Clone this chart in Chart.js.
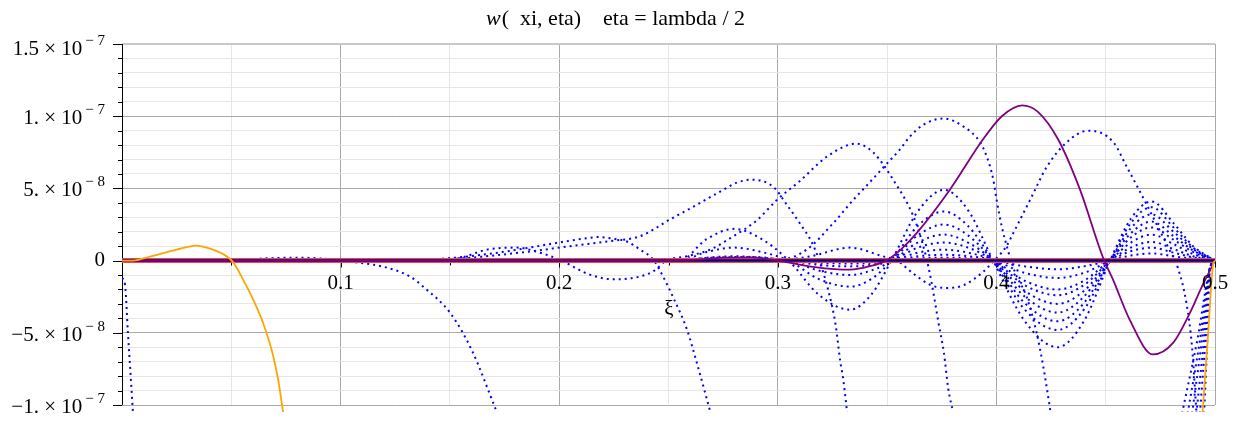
<!DOCTYPE html>
<html>
<head>
<meta charset="utf-8">
<script src="https://cdn.jsdelivr.net/npm/chart.js@4.4.0/dist/chart.umd.min.js"></script>
<style>
  html, body { margin: 0; padding: 0; background: #fff; }
  canvas { display: block; }
</style>
</head>
<body>
<canvas id="chart" width="1240" height="423"></canvas>
<script>
// all y values are w * 1e8 (axis labels carry the powers of ten)

// axis ticks / grid
const xGridValues = [0, 0.05, 0.1, 0.15, 0.2, 0.25, 0.3, 0.35, 0.4, 0.45, 0.5];
const xTickLabels = ["0.1", "0.2", "0.3", "0.4", "0.5"];
const xTickValues = [0.1, 0.2, 0.3, 0.4, 0.5];
const yGridValues = [-10, -9, -8, -7, -6, -5, -4, -3, -2, -1, 0, 1, 2, 3, 4, 5, 6, 7, 8, 9, 10, 11, 12, 13, 14, 15];
const yTickValues = [15, 10, 5, 0, -5, -10];
const yTickMant = ["1.5", "1.", "5.", "0", "\u22125.", "\u22121."];
const yTickExp = ["\u2212 7", "\u2212 7", "\u2212 8", "", "\u2212 8", "\u2212 7"];

// solid curves
const orangeX = [0, 0.005, 0.0128, 0.025, 0.034, 0.037, 0.0416, 0.048, 0.051, 0.0554, 0.06, 0.0645, 0.069, 0.0715, 0.0737];
const orangeY = [0, 0, 0.28, 0.76, 1.04, 0.97, 0.76, 0.28, -0.14, -1.32, -2.7, -4.3, -6.5, -8.3, -10.5];
const orangeEndX = [0.4943, 0.4968, 0.4991, 0.5];
const orangeEndY = [-10.5, -5.2, -0.3, 0];

const purpleX = [0, 0.24, 0.26, 0.275, 0.288, 0.3, 0.317, 0.333, 0.343, 0.3495, 0.3565, 0.3637, 0.3788, 0.3939, 0.4025, 0.4118, 0.419, 0.4282, 0.4382, 0.4488, 0.4533, 0.461, 0.4716, 0.4808, 0.4886, 0.494, 0.5];
const purpleY = [0, 0, 0.05, 0.2, 0.22, 0, -0.45, -0.63, -0.35, 0, 0.8, 1.94, 4.93, 8.4, 10.0, 10.75, 10.3, 8.4, 4.93, 0.2, -1.3, -4.1, -6.5, -5.7, -3.6, -1.8, 0];

const zeroX = [0, 0.5];
const zeroY = [0, 0];

// dotted curves that dive below the frame
const c1X = [0, 0.0014, 0.0027, 0.0038, 0.005];
const c1Y = [-1.2, -1.7, -5.0, -7.6, -10.5];
const c2X = [0.03, 0.05, 0.065, 0.08, 0.095, 0.104, 0.1194, 0.1317, 0.1377, 0.15, 0.16, 0.1715];
const c2Y = [0, 0.02, 0.15, 0.2, 0.1, -0.07, -0.42, -1.1, -1.8, -3.6, -6.2, -10.5];
const c3X = [0.13, 0.1532, 0.167, 0.1807, 0.197, 0.2127, 0.218, 0.2255, 0.231, 0.237, 0.243, 0.2475, 0.252, 0.2585, 0.263, 0.269];
const c3Y = [0, 0.21, 0.45, 0.75, 1.18, 1.55, 1.63, 1.5, 1.32, 0.76, 0.07, -1.1, -2.5, -4.8, -7.1, -10.4];
const c4X = [0.12, 0.15, 0.17, 0.19, 0.21, 0.2235, 0.237, 0.2507, 0.261, 0.2727, 0.2813, 0.288, 0.298, 0.304, 0.31, 0.3156, 0.319, 0.323, 0.3265, 0.3285, 0.33, 0.3317];
const c4Y = [0, 0.1, 0.35, 0.7, 1.1, 1.35, 1.69, 2.85, 3.7, 4.7, 5.4, 5.6, 5.1, 3.9, 2.6, 1.25, 0, -2.0, -4.5, -6.9, -8.3, -10.5];
const c5X = [0.14, 0.155, 0.167, 0.1807, 0.19, 0.2, 0.214, 0.225, 0.237, 0.2435, 0.249, 0.2583, 0.269, 0.2797, 0.2905, 0.2996, 0.31, 0.3225, 0.336, 0.3437, 0.3528, 0.362, 0.366, 0.369, 0.3715, 0.3735, 0.376, 0.378, 0.3802];
const c5Y = [0, 0.2, 0.76, 0.9, 0.6, 0.07, -0.97, -1.3, -1.1, -0.7, 0, 0.3, 0.76, 1.69, 2.8, 4.2, 5.5, 7.2, 8.1, 7.48, 5.6, 3.08, 1.3, -0.5, -2.5, -4.3, -6.4, -8.9, -10.5];
const c6X = [0.25, 0.27, 0.29, 0.302, 0.3132, 0.3254, 0.3345, 0.3407, 0.3498, 0.3559, 0.3605, 0.3665, 0.3757, 0.3848, 0.3925, 0.3956, 0.3986, 0.4001, 0.4024, 0.4055, 0.4085, 0.4138, 0.4184, 0.4214, 0.4248];
const c6Y = [0, 0.2, 0.25, 0.1, 0.76, 2.6, 4.2, 5.2, 6.7, 7.7, 8.6, 9.4, 9.84, 9.3, 8.2, 7.2, 5.6, 4.2, 2.4, 0.6, -0.8, -2.5, -5.0, -7.3, -10.5];
const c7X = [0.3, 0.315, 0.333, 0.348, 0.3545, 0.362, 0.37, 0.3775, 0.385, 0.393, 0.399, 0.4046, 0.4077, 0.4154, 0.4231, 0.4322, 0.442, 0.4535, 0.4596, 0.4642, 0.469, 0.474, 0.479, 0.483, 0.487, 0.4895, 0.4915];
const c7Y = [0, 0.3, 0.9, 0.3, 0, -0.9, -1.7, -1.9, -1.7, -0.9, 0, 1.0, 1.9, 4.2, 6.5, 8.2, 9.0, 8.2, 6.5, 5.2, 3.8, 2.3, 0.8, -0.5, -3.0, -6.0, -10.5];

// their returns from below near xi = 0.5
const r1X = [0.4849, 0.4919, 0.4977, 0.5];
const r2X = [0.4875, 0.4931, 0.4977, 0.5];
const r3X = [0.4895, 0.494, 0.4977, 0.5];
const r4X = [0.4915, 0.4949, 0.4977, 0.5];
const r5X = [0.4931, 0.4956, 0.4977, 0.5];
const r6X = [0.495, 0.4965, 0.4977, 0.5];
const returnY = [-10.6, -5.5, -0.5, 0];

// nested family of dotted curves that end at zero
const nestX = [0.24, 0.255, 0.2675, 0.28, 0.2925, 0.305, 0.319, 0.333, 0.3425, 0.352, 0.364, 0.376, 0.387, 0.3985, 0.413, 0.428, 0.44, 0.452, 0.4615, 0.471, 0.481, 0.49, 0.5];
const n1Y = [0, 0, 1.5, 2.2, 1.5, 0, -2.4, -3.4, -2.4, 0, 3.4, 4.9, 3.5, 0, -4.2, -6.0, -4.2, 0, 2.9, 4.1, 2.6, 1.0, 0];
const n2Y = [0, 0, 0.6, 0.9, 0.6, 0, -1.3, -1.8, -1.3, 0, 2.4, 3.4, 2.4, 0, -3.4, -4.8, -3.4, 0, 2.6, 3.7, 2.3, 0.9, 0];
const n3Y = [0, 0, 0.2, 0.3, 0.2, 0, -0.7, -1.0, -0.7, 0, 1.75, 2.5, 1.75, 0, -2.95, -4.2, -2.95, 0, 2.25, 3.2, 2.0, 0.8, 0];
const n4Y = [0, 0, 0.05, 0.1, 0.05, 0, -0.3, -0.4, -0.3, 0, 1.25, 1.8, 1.25, 0, -2.5, -3.6, -2.5, 0, 1.9, 2.7, 1.7, 0.7, 0];
const n5Y = [0, 0, 0, 0, 0, 0, -0.15, -0.2, -0.15, 0, 0.9, 1.25, 0.9, 0, -2.1, -3.0, -2.1, 0, 1.6, 2.3, 1.45, 0.6, 0];
const n6Y = [0, 0, 0, 0, 0, 0, -0.05, -0.1, -0.05, 0, 0.55, 0.76, 0.55, 0, -1.7, -2.4, -1.7, 0, 1.25, 1.8, 1.15, 0.45, 0];
const n7Y = [0, 0, 0, 0, 0, 0, 0, 0, 0, 0, 0.3, 0.4, 0.3, 0, -1.4, -2.0, -1.4, 0, 0.9, 1.3, 0.8, 0.3, 0];
const n8Y = [0, 0, 0, 0, 0, 0, 0, 0, 0, 0, 0.15, 0.2, 0.15, 0, -0.85, -1.2, -0.85, 0, 0.65, 0.9, 0.55, 0.22, 0];
const n9Y = [0, 0, 0, 0, 0, 0, 0, 0, 0, 0, 0.05, 0.1, 0.05, 0, -0.4, -0.6, -0.4, 0, 0.35, 0.5, 0.3, 0.12, 0];

const BLUE = "#0000ff";
const SERIF = '"Liberation Serif", "Times New Roman", serif';
const CLIP = { left: 0, top: 0, right: 0, bottom: 7 };

function pts(xs, ys) {
  return xs.map((x, i) => ({ x: x, y: ys[i] }));
}

function dotted(xs, ys) {
  return {
    data: pts(xs, ys),
    borderColor: BLUE,
    borderWidth: 2,
    borderDash: [2, 4],
    pointRadius: 0,
    cubicInterpolationMode: "monotone",
    clip: CLIP,
    order: 10
  };
}

function solid(xs, ys, color, width, order) {
  return {
    data: pts(xs, ys),
    borderColor: color,
    borderWidth: width,
    pointRadius: 0,
    cubicInterpolationMode: "monotone",
    clip: CLIP,
    order: order
  };
}

const datasets = [
  solid(orangeX, orangeY, "#ffa500", 1.8, 0),
  solid(orangeEndX, orangeEndY, "#ffa500", 1.8, 0),
  solid(purpleX, purpleY, "#800080", 1.8, 1),
  solid(zeroX, zeroY, "#000080", 2.5, 2),
  solid(zeroX, zeroY, "#f04848", 5, 3),
  dotted(c1X, c1Y), dotted(c2X, c2Y), dotted(c3X, c3Y), dotted(c4X, c4Y),
  dotted(c5X, c5Y), dotted(c6X, c6Y), dotted(c7X, c7Y),
  dotted(r1X, returnY), dotted(r2X, returnY), dotted(r3X, returnY),
  dotted(r4X, returnY), dotted(r5X, returnY), dotted(r6X, returnY),
  dotted(nestX, n1Y), dotted(nestX, n2Y), dotted(nestX, n3Y),
  dotted(nestX, n4Y), dotted(nestX, n5Y), dotted(nestX, n6Y),
  dotted(nestX, n7Y), dotted(nestX, n8Y), dotted(nestX, n9Y)
];

function isMultiple(v, step) {
  const q = v / step;
  return Math.abs(q - Math.round(q)) < 1e-6;
}

// axes through the origin, tick marks and labels, drawn Maple style
const mapleAxes = {
  id: "mapleAxes",
  beforeDatasetsDraw(chart) {
    const { ctx, chartArea: a, scales: { x, y } } = chart;
    const y0 = Math.round(y.getPixelForValue(0)) + 0.5;
    ctx.save();
    ctx.strokeStyle = "#000";
    ctx.lineWidth = 1;
    ctx.beginPath();
    ctx.moveTo(a.left + 0.5, a.top);
    ctx.lineTo(a.left + 0.5, a.bottom);
    ctx.moveTo(a.left, y0);
    ctx.lineTo(a.right, y0);
    yGridValues.forEach(v => {
      const py = Math.round(y.getPixelForValue(v)) + 0.5;
      const len = isMultiple(v, 5) ? 9 : 4;
      ctx.moveTo(a.left - len, py);
      ctx.lineTo(a.left, py);
    });
    xGridValues.forEach(v => {
      if (v === 0) return;
      const px = Math.round(x.getPixelForValue(v)) + 0.5;
      const len = isMultiple(v, 0.1) ? 6 : 4;
      ctx.moveTo(px, y0);
      ctx.lineTo(px, y0 + len);
    });
    ctx.stroke();
    ctx.restore();
  },
  afterDraw(chart) {
    const { ctx, scales: { x, y } } = chart;
    const y0 = y.getPixelForValue(0);
    ctx.save();
    ctx.fillStyle = "#000";
    ctx.textBaseline = "middle";

    // y labels with raised exponents
    ctx.textAlign = "right";
    yTickValues.forEach((v, i) => {
      let py = y.getPixelForValue(v);
      if (yTickExp[i] === "") {
        ctx.font = "21px " + SERIF;
        ctx.fillText(yTickMant[i], 105, py);
        return;
      }
      if (i === 0) py += 3;
      ctx.font = "15px " + SERIF;
      const expW = ctx.measureText(yTickExp[i]).width;
      ctx.fillText(yTickExp[i], 105, py - 6);
      ctx.font = "21px " + SERIF;
      ctx.fillText(yTickMant[i] + " \u00d7 10", 105 - expW - 3, py + 2.5);
    });

    // x labels under the axis line
    ctx.textAlign = "center";
    ctx.font = "21px " + SERIF;
    xTickValues.forEach((v, i) => {
      ctx.fillText(xTickLabels[i], x.getPixelForValue(v), y0 + 23);
    });
    ctx.fillText("\u03be", 669, 309);

    // title, italic w
    const part1 = "w";
    const part2 = "(  xi, eta)    eta = lambda / 2";
    ctx.font = "italic 22px " + SERIF;
    const w1 = ctx.measureText(part1).width;
    ctx.font = "22px " + SERIF;
    const w2 = ctx.measureText(part2).width;
    const start = 615 - (w1 + w2) / 2;
    ctx.textAlign = "left";
    ctx.textBaseline = "alphabetic";
    ctx.font = "italic 22px " + SERIF;
    ctx.fillText(part1, start, 25);
    ctx.font = "22px " + SERIF;
    ctx.fillText(part2, start + w1 + 1, 25);
    ctx.restore();
  }
};

new Chart(document.getElementById("chart"), {
  type: "line",
  data: { datasets: datasets },
  options: {
    responsive: false,
    animation: false,
    events: [],
    layout: { padding: { left: 0, right: 25, top: 44, bottom: 18 } },
    plugins: {
      legend: { display: false },
      tooltip: { enabled: false },
      title: { display: false }
    },
    scales: {
      x: {
        type: "linear",
        min: 0,
        max: 0.5,
        afterBuildTicks: s => { s.ticks = xGridValues.map(v => ({ value: v })); },
        afterFit: s => { s.height = 0; },
        ticks: { display: false },
        border: { display: false },
        grid: {
          drawTicks: false,
          lineWidth: 1,
          color: c => isMultiple(c.tick.value, 0.1) ? "#a9a9a9" : "#e6e6e6"
        }
      },
      y: {
        type: "linear",
        min: -10,
        max: 15,
        afterBuildTicks: s => { s.ticks = yGridValues.map(v => ({ value: v })); },
        afterFit: s => { s.width = 122; },
        ticks: { display: false },
        border: { display: false },
        grid: {
          drawTicks: false,
          lineWidth: c => c.tick.value === 15 ? 2 : 1,
          color: c => c.tick.value === 15 ? "#c8c8c8" : (isMultiple(c.tick.value, 5) ? "#a9a9a9" : "#e6e6e6")
        }
      }
    }
  },
  plugins: [mapleAxes]
});
</script>
</body>
</html>
